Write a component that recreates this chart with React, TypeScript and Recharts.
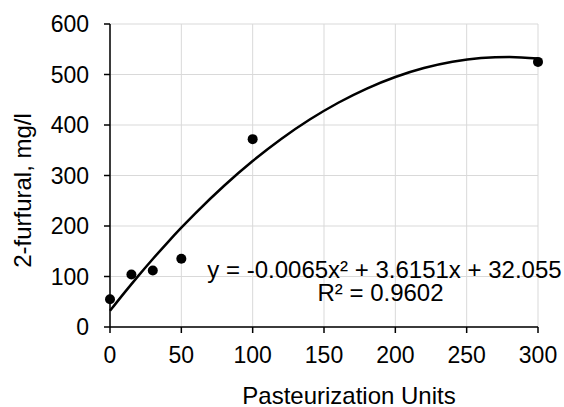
import React from 'react';
import {
  ComposedChart,
  Scatter,
  Line,
  XAxis,
  YAxis,
  CartesianGrid,
  Customized,
} from 'recharts';

// measured samples
const pasteurUnits = [0, 15, 30, 50, 100, 300];
const furfural = [55, 104, 112, 135, 372, 525];

// polynomial trendline (order 2) as reported
const trendA = -0.0065;
const trendB = 3.6151;
const trendC = 32.055;
const trendR2 = '0.9602';
const trendX = [0, 10, 20, 30, 40, 50, 60, 80, 100, 120, 140, 160, 180, 200, 220, 240, 260, 280, 300];

const xTicks = [0, 50, 100, 150, 200, 250, 300];
const yTicks = [0, 100, 200, 300, 400, 500, 600];

const points = pasteurUnits.map((x, i) => ({ x, y: furfural[i] }));
const trend = trendX.map((x) => ({ x, y: trendA * x * x + trendB * x + trendC }));

const FONT = '"Liberation Sans", Arial, sans-serif';
const tickStyle = { fontSize: 23, fill: '#000', fontFamily: FONT };

const Dot = (props: any) => <circle cx={props.cx} cy={props.cy} r={5} fill="#000" />;

const eqLine = `y = ${trendA}x² + ${trendB}x + ${trendC}`;
const r2Line = `R² = ${trendR2}`;

// axis titles and trendline equation
const Annotations = () => (
  <g fontFamily={FONT} fontSize={24} fill="#000" textAnchor="middle">
    <text x={384.5} y={278}>{eqLine}</text>
    <text x={380.5} y={301}>{r2Line}</text>
    <text x={349} y={404}>Pasteurization Units</text>
    <text x={31} y={190.5} transform="rotate(-90 31 190.5)">2-furfural, mg/l</text>
  </g>
);

export default function App() {
  return (
    <div style={{ position: 'absolute', left: 0, top: 0, width: 564, height: 407, background: '#fff' }}>
      <ComposedChart
        width={564}
        height={407}
        margin={{ top: 24, right: 26, bottom: 0, left: 0 }}
      >
        <CartesianGrid stroke="#d9d9d9" strokeWidth={1} />
        <XAxis
          type="number"
          dataKey="x"
          domain={[0, 300]}
          ticks={xTicks}
          height={80}
          tick={tickStyle}
          tickSize={6}
          tickMargin={14}
          stroke="#000"
          strokeWidth={1.5}
        />
        <YAxis
          type="number"
          dataKey="y"
          domain={[0, 600]}
          ticks={yTicks}
          width={110}
          tick={tickStyle}
          tickSize={6}
          tickMargin={15}
          stroke="#000"
          strokeWidth={1.5}
        />
        <Line
          data={trend}
          dataKey="y"
          type="monotone"
          stroke="#000"
          strokeWidth={2.5}
          dot={false}
          activeDot={false}
          isAnimationActive={false}
        />
        <Scatter data={points} dataKey="y" shape={<Dot />} isAnimationActive={false} />
        <Customized component={Annotations} />
      </ComposedChart>
    </div>
  );
}
